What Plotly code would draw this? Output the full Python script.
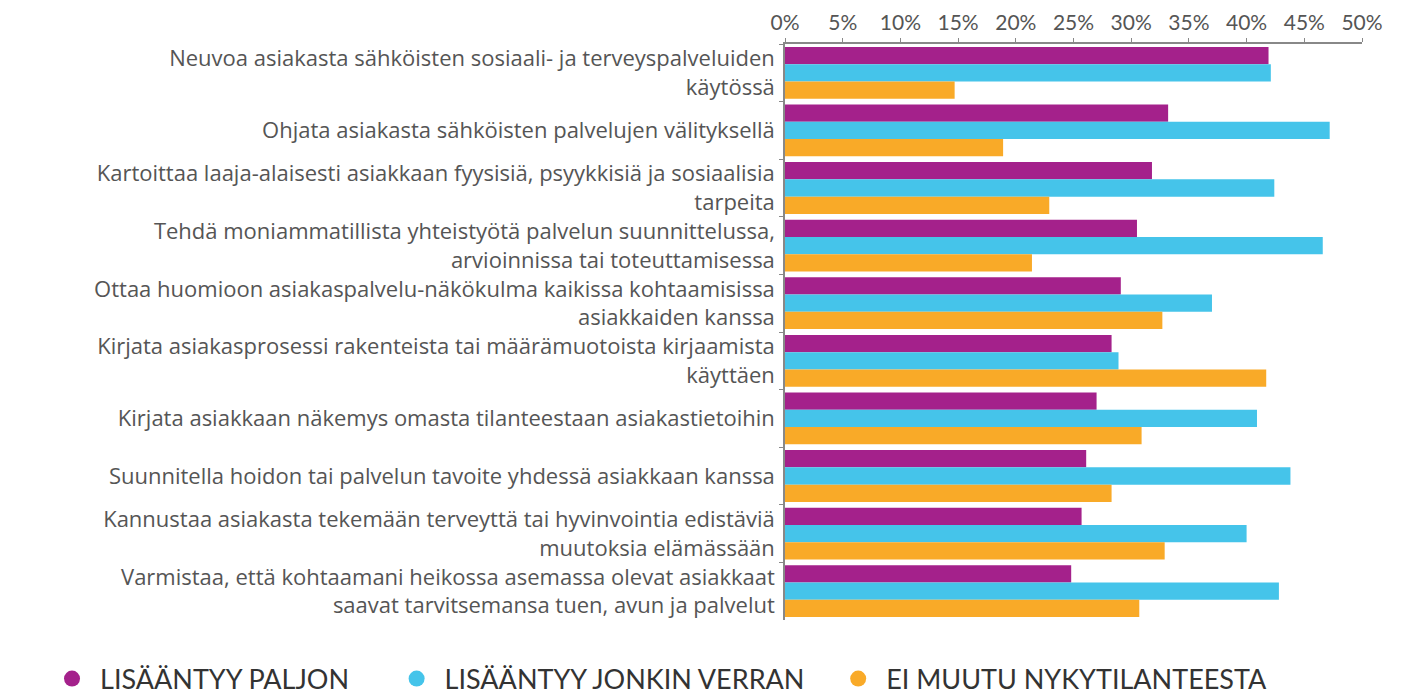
import plotly.graph_objects as go

categories = [
    "Neuvoa asiakasta sähköisten sosiaali- ja terveyspalveluiden<br>käytössä",
    "Ohjata asiakasta sähköisten palvelujen välityksellä",
    "Kartoittaa laaja-alaisesti asiakkaan fyysisiä, psyykkisiä ja sosiaalisia<br>tarpeita",
    "Tehdä moniammatillista yhteistyötä palvelun suunnittelussa,<br>arvioinnissa tai toteuttamisessa",
    "Ottaa huomioon asiakaspalvelu-näkökulma kaikissa kohtaamisissa<br>asiakkaiden kanssa",
    "Kirjata asiakasprosessi rakenteista tai määrämuotoista kirjaamista<br>käyttäen",
    "Kirjata asiakkaan näkemys omasta tilanteestaan asiakastietoihin",
    "Suunnitella hoidon tai palvelun tavoite yhdessä asiakkaan kanssa",
    "Kannustaa asiakasta tekemään terveyttä tai hyvinvointia edistäviä<br>muutoksia elämässään",
    "Varmistaa, että kohtaamani heikossa asemassa olevat asiakkaat<br>saavat tarvitsemansa tuen, avun ja palvelut",
]

lisaantyy_paljon = [41.9, 33.2, 31.8, 30.5, 29.1, 28.3, 27.0, 26.1, 25.7, 24.8]
lisaantyy_jonkin = [42.1, 47.2, 42.4, 46.6, 37.0, 28.9, 40.9, 43.8, 40.0, 42.8]
ei_muutu = [14.7, 18.9, 22.9, 21.4, 32.7, 41.7, 30.9, 28.3, 32.9, 30.7]

series_names = ["LISÄÄNTYY PALJON", "LISÄÄNTYY JONKIN VERRAN", "EI MUUTU NYKYTILANTEESTA"]
series_values = [lisaantyy_paljon, lisaantyy_jonkin, ei_muutu]
colors = ["#A4218B", "#45C4EA", "#F9AA28"]
legend_pad = [5, 3, 0]

x_ticks = [0, 5, 10, 15, 20, 25, 30, 35, 40, 45, 50]
x_ticklabels = [f"{t}%" for t in x_ticks]

fig = go.Figure()
for name, vals, col in zip(series_names, series_values, colors):
    fig.add_trace(go.Bar(
        y=categories, x=vals, orientation="h", name=name,
        marker=dict(color=col, line=dict(width=0)),
        showlegend=False,
    ))
for name, col, pad in zip(series_names, colors, legend_pad):
    fig.add_trace(go.Scatter(
        x=[None], y=[None], mode="markers", name=name + "\u00a0" * pad,
        marker=dict(color=col, size=16, symbol="circle"),
        showlegend=True,
    ))

fig.update_layout(
    width=1412, height=695,
    barmode="group", bargap=0.1, bargroupgap=0,
    paper_bgcolor="white", plot_bgcolor="white",
    margin=dict(l=777, r=58, t=36, b=83, autoexpand=False),
    font=dict(family="Open Sans", color="#555555", size=22),
    legend=dict(
        orientation="h", xref="paper", yref="paper",
        x=-1.2842, y=-0.1024, xanchor="left", yanchor="middle",
        font=dict(family="Lato", size=27, color="#333333"),
        itemsizing="trace", itemwidth=46,
        traceorder="normal",
    ),
    xaxis=dict(
        range=[0, 50], side="top", tickvals=x_ticks, ticktext=x_ticklabels,
        showgrid=False, zeroline=False, showline=True, linecolor="#888888", linewidth=1.5,
        ticks="outside", ticklen=4, tickcolor="#888888", fixedrange=True,
        tickfont=dict(family="Lato", size=21, color="#555555"),
    ),
    yaxis=dict(
        autorange="reversed", showgrid=False, showline=True, linecolor="#888888", linewidth=1.5,
        ticks="outside", ticklen=4, tickcolor="#888888", tickson="boundaries",
        ticklabelstandoff=4,
        tickfont=dict(family="Open Sans", size=22, color="#555555"),
    ),
)

fig.write_html("out.html")
